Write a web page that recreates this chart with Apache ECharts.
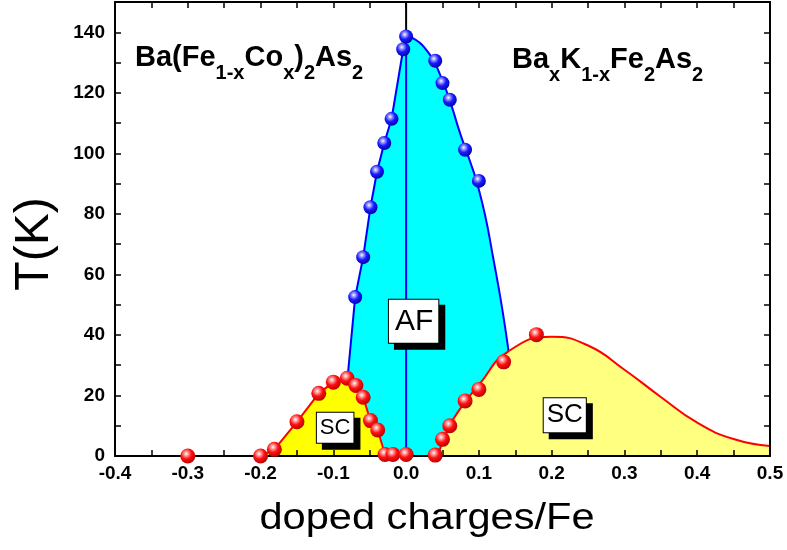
<!DOCTYPE html>
<html>
<head>
<meta charset="utf-8">
<script src="https://cdn.jsdelivr.net/npm/echarts@6/dist/echarts.min.js"></script>
<style>
html,body{margin:0;padding:0;background:#fff;}
#chart{width:787px;height:550px;}
</style>
</head>
<body>
<div id="chart"></div>
<script>
// ---- data ----
// AF (Néel) transition points, Co-doped side (electron, negative x) and K-doped side
const afCoPoints = [[-0.070,52.5],[-0.059,65.7],[-0.049,82.2],[-0.040,93.9],[-0.030,103.4],[-0.020,111.4],[-0.004,134.4],[0.000,138.6]];
const afKPoints = [[0.040,130.6],[0.050,123.2],[0.060,117.7],[0.081,101.2],[0.100,90.9]];
// AF phase boundary lines
const afLeftBoundary = [[-0.083,0],[-0.080,27],[-0.070,52.5],[-0.059,65.7],[-0.049,82.2],[-0.040,93.9],[-0.030,103.4],[-0.020,111.4],[-0.004,134.4],[0.000,138.6]];
const afRightBoundary = [[0.000,139],[0.025,135],[0.050,124],[0.075,106],[0.100,88],[0.120,65],[0.140,36],[0.158,0]];
// SC (Tc) points
const scCoPoints = [[-0.300,0],[-0.200,0],[-0.181,2.2],[-0.150,11.3],[-0.120,20.7],[-0.100,24.4],[-0.081,25.7],[-0.069,23.3],[-0.059,19.4],[-0.049,11.7],[-0.039,8.6],[-0.029,0.5],[-0.018,0.5],[0.000,0.5]];
const scKPoints = [[0.040,0.3],[0.050,5.5],[0.060,10.0],[0.081,18.2],[0.100,22.0],[0.134,31.1],[0.179,40.1]];
// SC dome boundary on K side (guide line)
const scKFlat = [[0.000,0],[0.043,0]];
const scKBoundary = [[0.043,0],[0.060,10],[0.080,17.5],[0.100,23.5],[0.140,34.5],[0.200,39.4],[0.250,36.5],[0.300,28.5],[0.350,19.5],[0.400,11],[0.450,5.6],[0.500,3.3]];
// vertical line at x = 0
const zeroLineLower = [[0,0],[0,138.6]];
const zeroLineUpper = [[0,138.6],[0,150]];
// phase labels [x, y, text]
const phaseLabels = [[0.0103,44.5,'AF'],[-0.0975,9.3,'SC'],[0.218,13.5,'SC']];
// axis settings
const xMin = -0.4, xMax = 0.5, xStep = 0.05;
const yMin = 0, yMax = 150, yStep = 10;
const xTitle = 'doped charges/Fe';
const yTitle = 'T(K)';

const FONT = "'Liberation Sans', Arial, Helvetica, sans-serif";
const chart = echarts.init(document.getElementById('chart'), null, {renderer:'canvas'});

function sphere(light, mid, dark) {
  return new echarts.graphic.RadialGradient(0.4, 0.35, 0.7, [
    {offset:0, color:'#ffffff'},
    {offset:0.2, color:light},
    {offset:0.5, color:mid},
    {offset:1, color:dark}
  ]);
}

const tickCommon = {inside:true, length:6, lineStyle:{color:'#000', width:1.5}};
const lineCommon = {show:true, onZero:false, lineStyle:{color:'#000', width:2}};

const subRich = {
  m: {fontSize:29, fontWeight:'bold', fontFamily:FONT, color:'#000', lineHeight:30, verticalAlign:'top'},
  s: {fontSize:20, fontWeight:'bold', fontFamily:FONT, color:'#000', lineHeight:20, padding:[20,0,0,0], verticalAlign:'top'}
};

const labelSizes = [
  {fontSize:30, lineHeight:30, padding:[7,5,6,6]},
  {fontSize:22, lineHeight:22, padding:[4,3,4,3]},
  {fontSize:26, lineHeight:26, padding:[4,3,4,3]}
];

const option = {
  backgroundColor:'#fff',
  animation:false,
  title:[
    {text:'{m|Ba(Fe}{s|1-x}{m|Co}{s|x}{m|)}{s|2}{m|As}{s|2}', left:135, top:43, padding:0, textStyle:{rich:subRich}},
    {text:'{m|Ba}{s|x}{m|K}{s|1-x}{m|Fe}{s|2}{m|As}{s|2}', left:512, top:45, padding:0, textStyle:{rich:subRich}}
  ],
  grid:{left:115, right:17, top:2, bottom:94, containLabel:false},
  xAxis:[
    {type:'value', min:xMin, max:xMax, interval:xStep, position:'bottom', z:10,
     axisLine:lineCommon, axisTick:tickCommon, splitLine:{show:false},
     axisLabel:{margin:8, color:'#000', fontSize:19, fontWeight:'bold', fontFamily:FONT,
       formatter:function(v){ return Math.round(v*100)%10===0 ? v.toFixed(1) : ''; }}},
    {type:'value', min:xMin, max:xMax, interval:xStep, position:'top', z:10,
     axisLine:lineCommon, axisTick:tickCommon, splitLine:{show:false}, axisLabel:{show:false}}
  ],
  yAxis:[
    {type:'value', min:yMin, max:yMax, interval:yStep, position:'left', z:10,
     axisLine:lineCommon, axisTick:tickCommon, splitLine:{show:false},
     axisLabel:{margin:10, color:'#000', fontSize:19, fontWeight:'bold', fontFamily:FONT, showMaxLabel:false,
       formatter:function(v){ return Math.round(v)%20===0 ? String(Math.round(v)) : ''; }}},
    {type:'value', min:yMin, max:yMax, interval:yStep, position:'right', z:10,
     axisLine:lineCommon, axisTick:tickCommon, splitLine:{show:false}, axisLabel:{show:false}}
  ],
  graphic:[
    {type:'text', x:427, y:519, scaleX:1.155, z:50,
     style:{text:xTitle, fontSize:36, fontFamily:FONT, fill:'#000', textAlign:'center', textVerticalAlign:'middle', align:'center', verticalAlign:'middle'}},
    {type:'text', x:35, y:244, rotation:Math.PI/2, z:50,
     style:{text:yTitle, fontSize:48, fontFamily:FONT, fill:'#000', textAlign:'center', textVerticalAlign:'middle', align:'center', verticalAlign:'middle'}}
  ],
  series:[
    {type:'line', data:afLeftBoundary, symbol:'none', z:2, lineStyle:{color:'#0000ff', width:2},
     areaStyle:{color:'#00ffff', opacity:1}},
    {type:'line', data:afRightBoundary, symbol:'none', smooth:0.5, z:2,
     lineStyle:{color:'#0000ff', width:2}, areaStyle:{color:'#00ffff', opacity:1}},
    {type:'line', data:zeroLineLower, symbol:'none', z:3, lineStyle:{color:'#0000ff', width:2}},
    {type:'line', data:zeroLineUpper, symbol:'none', z:3, lineStyle:{color:'#000000', width:2}},
    {type:'line', data:scCoPoints, symbol:'none', z:4, lineStyle:{color:'#ff0000', width:2},
     areaStyle:{color:'#ffff00', opacity:1}},
    {type:'line', data:scKBoundary, symbol:'none', smooth:0.5, z:4,
     lineStyle:{color:'#ff0000', width:2}, areaStyle:{color:'#ffff80', opacity:1}},
    {type:'line', data:scKFlat, symbol:'none', z:4, lineStyle:{color:'#ff0000', width:2}},
    {type:'scatter', data:afCoPoints.concat(afKPoints), symbolSize:14, z:20,
     itemStyle:{color:sphere('#9a9aff','#1a1aff','#0000a0'), opacity:1}},
    {type:'scatter', data:scCoPoints.concat(scKPoints), symbolSize:15, z:20,
     itemStyle:{color:sphere('#ff9a9a','#ff1010','#b00000'), opacity:1}},
    {type:'scatter', z:30, symbolSize:1, itemStyle:{color:'rgba(0,0,0,0)', opacity:1},
     data:phaseLabels.map(function(p, i){ return {value:[p[0],p[1]], name:p[2], label:labelSizes[i]}; }),
     label:{show:true, position:'inside', color:'#000', fontFamily:FONT, opacity:1,
       formatter:function(p){ return p.name; },
       backgroundColor:'#ffffff', borderColor:'#000', borderWidth:1,
       textShadowColor:'transparent', textShadowBlur:0,
       shadowColor:'#000', shadowBlur:0, shadowOffsetX:6, shadowOffsetY:6}
    }
  ]
};
chart.setOption(option);
</script>
</body>
</html>
